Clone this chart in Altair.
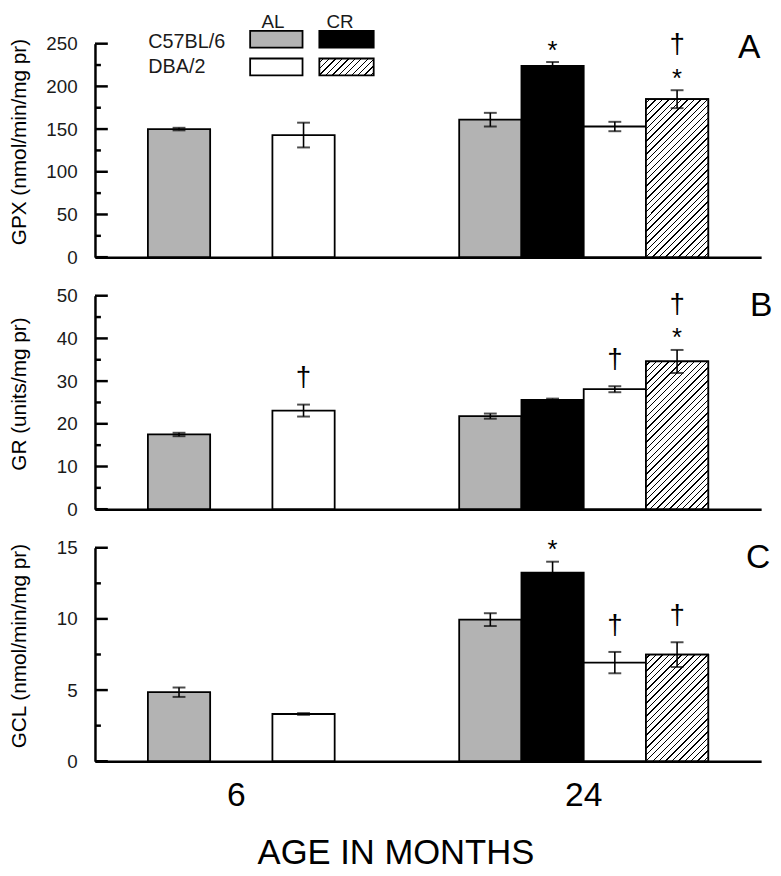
import altair as alt
import pandas as pd

# ---------------- data ----------------
AGES = ["6", "24"]
GROUPS = ["C57BL/6 AL", "C57BL/6 CR", "DBA/2 AL", "DBA/2 CR"]
FILLS = ["#b3b3b3", "#000000", "#ffffff", "#ffffff"]

row_age = ["6", "6", "24", "24", "24", "24"]
row_group = ["C57BL/6 AL", "DBA/2 AL", "C57BL/6 AL", "C57BL/6 CR", "DBA/2 AL", "DBA/2 CR"]

gpx_mean = [150, 143, 161, 224, 153, 185]
gpx_sem = [1.5, 14.5, 8, 4.5, 5.5, 10.5]
gpx_sig = ["", "", "", "*", "", "*†"]

gr_mean = [17.5, 23.1, 21.8, 25.6, 28.1, 34.6]
gr_sem = [0.4, 1.4, 0.6, 0.3, 0.7, 2.7]
gr_sig = ["", "†", "", "", "†", "*†"]

gcl_mean = [4.85, 3.32, 9.95, 13.25, 6.93, 7.49]
gcl_sem = [0.33, 0.06, 0.45, 0.77, 0.75, 0.87]
gcl_sig = ["", "", "", "*", "†", "†"]

gpx_major = [0, 50, 100, 150, 200, 250]
gpx_minor = [25, 75, 125, 175, 225]
gr_major = [0, 10, 20, 30, 40, 50]
gr_minor = [5, 15, 25, 35, 45]
gcl_major = [0, 5, 10, 15]
gcl_minor = [2.5, 7.5, 12.5]

legend_strains = ["C57BL/6", "DBA/2"]
legend_diets = ["AL", "CR"]

FONT = "Liberation Sans"
PW, PH = 674, 216
BAR_W = 63


def hatch_fill(w, h, gap=6.5, lw=1.4):
    total = w + h
    k = total / (w * w + h * h)
    stops = [{"offset": 0, "color": "white"}]
    c = gap / 2
    while c < total:
        a = c / total
        b = min((c + lw) / total, 1)
        stops += [{"offset": a, "color": "white"}, {"offset": a, "color": "black"},
                  {"offset": b, "color": "black"}, {"offset": b, "color": "white"}]
        c += gap
    stops.append({"offset": 1, "color": "white"})
    return {"gradient": "linear", "x1": 0, "y1": 0, "x2": k * w, "y2": k * h, "stops": stops}


def panel(mean, sem, sig, title, ymax, major, minor, letter, lx, ly, bottom=False, legend=False):
    df = pd.DataFrame({"age": row_age, "group": row_group, "value": mean, "err": sem, "sig": sig})
    df["lo"] = df["value"] - df["err"]
    df["hi"] = df["value"] + df["err"]

    if bottom:
        xaxis = alt.Axis(labels=False, ticks=False, domainColor="black", domainWidth=2.5,
                         title="AGE IN MONTHS", titleFontSize=35, titleFontWeight="normal",
                         titleColor="black", titleX=304, titleY=103, titleBaseline="alphabetic",
                         titleAlign="center")
    else:
        xaxis = alt.Axis(labels=False, ticks=False, domainColor="black", domainWidth=2.5, title=None)

    x = alt.X("age:N", sort=AGES,
              scale=alt.Scale(domain=AGES, paddingInner=0.2, paddingOuter=0.17), axis=xaxis)
    xo = alt.XOffset("group:N", scale=alt.Scale(domain=GROUPS, paddingInner=0, paddingOuter=0))
    ysc = alt.Scale(domain=[0, ymax], nice=False, zero=True)
    yaxis = alt.Axis(values=major, ticks=False, labelPadding=18, labelFontSize=19,
                     labelColor="#1a1a1a", domainColor="black", domainWidth=2.5, grid=False,
                     titleFontSize=21, titleFontWeight="normal", titleColor="black",
                     titleX=-66, titleY=PH / 2 - 9)

    base = alt.Chart(df)
    bars = base.mark_bar(stroke="black", strokeWidth=1.8).encode(
        x=x, xOffset=xo,
        y=alt.Y("value:Q", scale=ysc, axis=yaxis, title=title),
        fill=alt.Fill("group:N", scale=alt.Scale(domain=GROUPS, range=FILLS), legend=None),
    )
    hv = df.loc[df["group"] == "DBA/2 CR", "value"].iloc[0]
    hatch = base.transform_filter(alt.datum.group == "DBA/2 CR").mark_bar(
        fill=hatch_fill(BAR_W, hv / ymax * PH), stroke="black", strokeWidth=1.8
    ).encode(x=x, xOffset=xo, y=alt.Y("value:Q", title=title))

    err = base.mark_rule(color="black", strokeWidth=1.6).encode(
        x=x, xOffset=xo, y=alt.Y("lo:Q", title=title), y2="hi:Q")
    cap_hi = base.mark_tick(color="black", orient="horizontal", size=13, thickness=2).encode(
        x=x, xOffset=xo, y=alt.Y("hi:Q", title=title))
    cap_lo = base.mark_tick(color="black", orient="horizontal", size=13, thickness=2).encode(
        x=x, xOffset=xo, y=alt.Y("lo:Q", title=title))

    star = base.transform_filter("indexof(datum.sig, '*') >= 0").mark_text(
        text="*", fontSize=26, dy=-3.5, baseline="alphabetic", color="black").encode(
        x=x, xOffset=xo, y=alt.Y("hi:Q", title=title))
    dag1 = base.transform_filter("datum.sig == '†'").mark_text(
        text="†", fontSize=28, dy=-18.5, baseline="alphabetic", color="black").encode(
        x=x, xOffset=xo, y=alt.Y("hi:Q", title=title))
    dag2 = base.transform_filter("datum.sig == '*†'").mark_text(
        text="†", fontSize=28, dy=-37.5, baseline="alphabetic", color="black").encode(
        x=x, xOffset=xo, y=alt.Y("hi:Q", title=title))

    tmaj = alt.Chart(pd.DataFrame({"value": major})).mark_rule(color="black", strokeWidth=2.5).encode(
        y=alt.Y("value:Q", title=title), x=alt.value(0), x2=alt.value(13))
    tmin = alt.Chart(pd.DataFrame({"value": minor})).mark_rule(color="black", strokeWidth=2.5).encode(
        y=alt.Y("value:Q", title=title), x=alt.value(0), x2=alt.value(6))

    lett = alt.Chart(pd.DataFrame({"t": [letter]})).mark_text(
        fontSize=34, align="center", baseline="middle", color="black").encode(
        text="t:N", x=alt.value(lx), y=alt.value(ly))

    layers = [bars, hatch, err, cap_hi, cap_lo, star, dag1, dag2, tmaj, tmin, lett]

    if legend:
        box_x = [(157, 210), (227, 282)]
        box_y = [(-13, 4), (15, 32)]
        box_fill = [[FILLS[0], FILLS[1]], [FILLS[2], None]]
        for r, strain in enumerate(legend_strains):
            layers.append(alt.Chart(pd.DataFrame({"t": [strain]})).mark_text(
                fontSize=20, align="left", baseline="alphabetic", color="#1a1a1a").encode(
                text="t:N", x=alt.value(54), y=alt.value(4 if r == 0 else 30)))
            for c in range(2):
                f = box_fill[r][c] if box_fill[r][c] else hatch_fill(55, 17)
                layers.append(alt.Chart(pd.DataFrame({"t": [strain + " " + legend_diets[c]]})).mark_rect(
                    fill=f, stroke="black", strokeWidth=1.8).encode(
                    x=alt.value(box_x[c][0]), x2=alt.value(box_x[c][1]),
                    y=alt.value(box_y[r][0]), y2=alt.value(box_y[r][1])))
        for c, diet in enumerate(legend_diets):
            layers.append(alt.Chart(pd.DataFrame({"t": [diet]})).mark_text(
                fontSize=19, align="center", baseline="alphabetic", color="#1a1a1a").encode(
                text="t:N", x=alt.value([180, 248][c]), y=alt.value(-16)))

    if bottom:
        six = alt.Chart(pd.DataFrame({"age": ["6"], "group": ["C57BL/6 CR"]})).mark_text(
            fontSize=34, dx=-5, baseline="alphabetic", color="black").encode(
            x=x, xOffset=xo, y=alt.value(PH + 45), text="age:N")
        tw = alt.Chart(pd.DataFrame({"age": ["24"]})).mark_text(
            fontSize=34, baseline="alphabetic", color="black").encode(
            x=x, y=alt.value(PH + 45), text="age:N")
        layers += [six, tw]

    return alt.layer(*layers).properties(width=PW, height=PH)


pA = panel(gpx_mean, gpx_sem, gpx_sig, "GPX (nmol/min/mg pr)", 250, gpx_major, gpx_minor,
           "A", 662, 4, legend=True)
pB = panel(gr_mean, gr_sem, gr_sig, "GR (units/mg pr)", 50, gr_major, gr_minor,
           "B", 674, 11)
pC = panel(gcl_mean, gcl_sem, gcl_sig, "GCL (nmol/min/mg pr)", 15, gcl_major, gcl_minor,
           "C", 671, 10, bottom=True)

chart = alt.vconcat(pA, pB, pC, spacing=39, bounds="flush").resolve_scale(
    y="independent"
).properties(
    padding={"left": 0, "top": 0, "right": 0, "bottom": 0}
).configure_view(stroke=None).configure_axis(
    labelFont=FONT, titleFont=FONT
).configure_text(font=FONT)

chart.save("out.html", embed_options={"renderer": "svg", "actions": False})
